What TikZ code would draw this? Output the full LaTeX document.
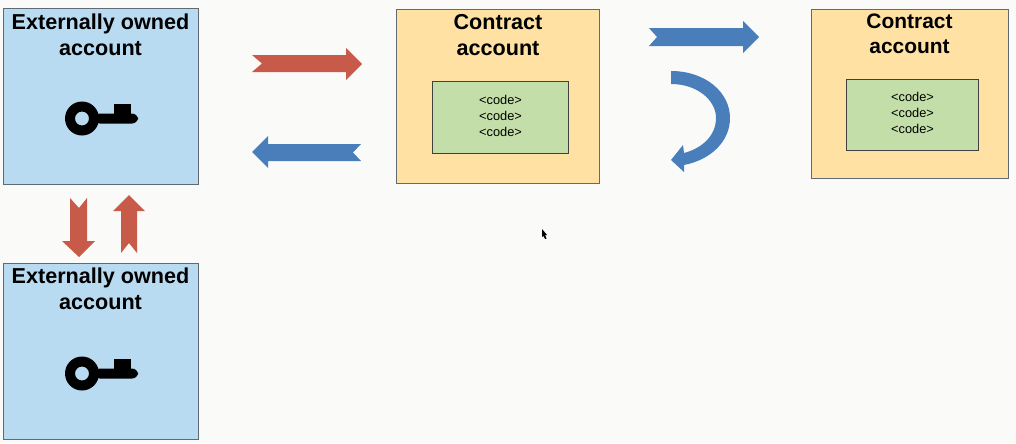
\documentclass[tikz,border=0pt]{standalone}
\usepackage{fontspec}
\setmainfont{Liberation Sans}
\definecolor{paper}{HTML}{FAFAF8}
\definecolor{eoablue}{HTML}{B9DBF1}
\definecolor{contractyellow}{HTML}{FFE2A3}
\definecolor{codegreen}{HTML}{C3DEA8}
\definecolor{boxline}{HTML}{5F6A72}
\definecolor{arrowred}{HTML}{C85A49}
\definecolor{arrowblue}{HTML}{4A7EBB}
\tikzset{
 box/.style={draw=boxline,line width=0.7pt,inner sep=0pt,outer sep=0pt},
 title/.style={font=\bfseries\fontsize{16.2}{19.5}\selectfont,align=center,anchor=north,inner sep=0pt},
 codebox/.style={box,draw=black!75,fill=codegreen},
 codetext/.style={font=\fontsize{9.6}{12}\selectfont,align=center,inner sep=0pt},
 redarrow/.style={fill=arrowred},
 bluearrow/.style={fill=arrowblue},
 pics/key/.style={code={
  \fill[even odd rule,black] (0,0) circle (17) (0,0) circle (7);
  \fill[black,rounded corners=4.5] (12,-5) -- (56,-5) -- (56,5) -- (12,5) -- cycle;
  \fill[black] (32,-15) rectangle (49,-3);
 }}
}
\begin{document}
\begin{tikzpicture}[x=0.75pt,y=-0.75pt]
 \useasboundingbox (0,0) rectangle (1016,443);
 \fill[paper] (0,0) rectangle (1016,443);
 % accounts
 \node[box,fill=eoablue,minimum width=195*0.75pt,minimum height=176*0.75pt] (eoaA) at (100.5,96) {};
 \node[box,fill=eoablue,minimum width=195*0.75pt,minimum height=176*0.75pt] (eoaB) at (100.5,351) {};
 \node[box,fill=contractyellow,minimum width=203.5*0.75pt,minimum height=174*0.75pt] (contractA) at (497.75,96) {};
 \node[box,fill=contractyellow,minimum width=197*0.75pt,minimum height=169*0.75pt] (contractB) at (909.5,93.5) {};
 \node[title] (eoaAtitle) at (100.5,14) {Externally owned\\account};
 \node[title] (eoaBtitle) at (100.5,268) {Externally owned\\account};
 \node[title] (contractAtitle) at (498,14) {Contract\\account};
 \node[title,font=\bfseries\fontsize{15.7}{19}\selectfont] (contractBtitle) at (909.5,13.5) {Contract\\account};
 \node[codebox,minimum width=136*0.75pt,minimum height=72*0.75pt] (codeA) at (500,117) {};
 \node[codebox,minimum width=132*0.75pt,minimum height=71*0.75pt] (codeB) at (912,114.5) {};
 \node[codetext] (codeAtext) at (500.5,116) {<code>\\<code>\\<code>};
 \node[codetext] (codeBtext) at (912.5,113) {<code>\\<code>\\<code>};
 % keys
 \pic at (82,118.5) {key};
 \pic at (82,373.5) {key};
 % arrows
 \fill[redarrow] (252,55)--(346,55)--(346,48)--(362,64)--(346,80)--(346,72)--(252,72)--(262,63.5)--cycle;
 \fill[bluearrow] (361,144)--(268,144)--(268,136)--(252,152)--(268,168)--(268,161)--(361,161)--(353,152.5)--cycle;
 \fill[redarrow] (70,198)--(79,208)--(87,198)--(87,241)--(95,241)--(79,257)--(62,241)--(70,241)--cycle;
 \fill[redarrow] (121,253)--(129,243)--(137,253)--(137,211)--(145,211)--(129,195)--(113,211)--(121,211)--cycle;
 \fill[bluearrow] (649,28)--(743,28)--(743,21)--(759,37)--(743,53)--(743,46)--(649,46)--(657,37)--cycle;
 \fill[bluearrow] (671,71) .. controls (705,71) and (730,92) .. (730,118)
  .. controls (730,142) and (710,160) .. (684,165) -- (684,172) -- (671,160) -- (683,145) -- (684,153)
  .. controls (703,148) and (716,135) .. (716,118)
  .. controls (716,100) and (697,84) .. (671,84) -- cycle;
 % pointer
 \fill[black] (542,229)--(547,235)--(545,235)--(546.5,238.5)--(545,239)--(543.5,236)--(542,237)--cycle;
\end{tikzpicture}
\end{document}
